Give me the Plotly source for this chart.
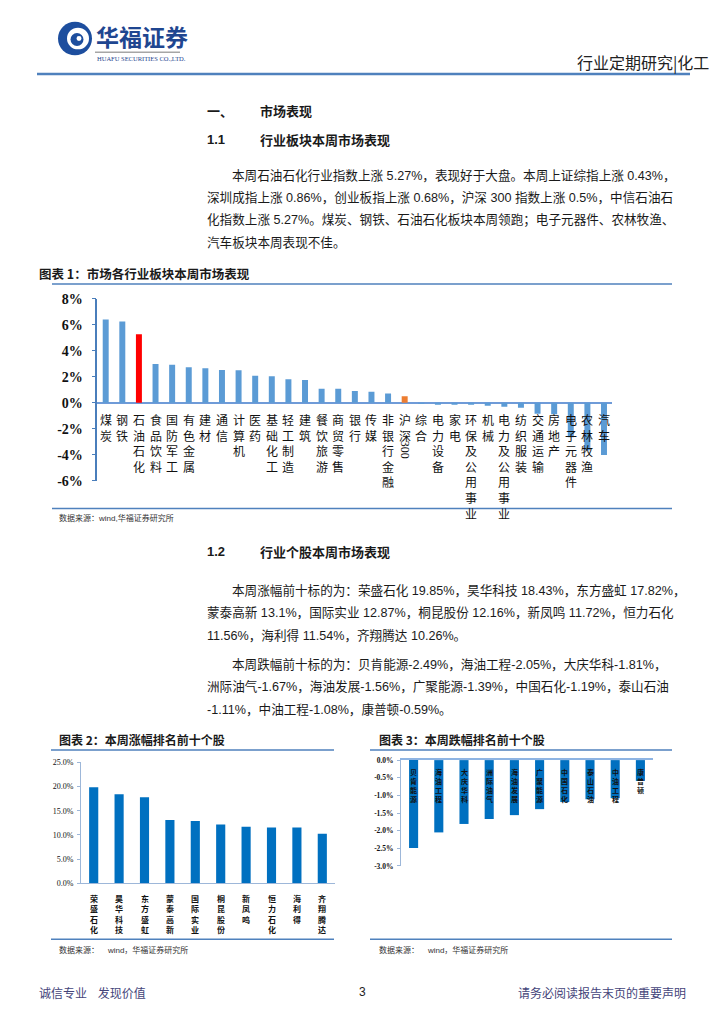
import plotly.graph_objects as go

W, H = 724, 1024

# ---------------- data ----------------
industries = ["煤炭", "钢铁", "石油石化", "食品饮料", "国防军工", "有色金属", "建材", "通信",
              "计算机", "医药", "基础化工", "轻工制造", "建筑", "餐饮旅游", "商贸零售", "银行",
              "传媒", "非银行金融", "沪深300", "综合", "电力设备", "家电", "环保及公用事业", "机械",
              "电力及公用事业", "纺织服装", "交通运输", "房地产", "电子元器件", "农林牧渔", "汽车"]
industry_returns = [6.39, 6.24, 5.27, 2.98, 2.93, 2.73, 2.65, 2.53, 2.50, 2.07, 2.04, 1.82,
                    1.75, 1.09, 1.08, 0.91, 0.86, 0.71, 0.50, -0.03, -0.10, -0.14, -0.15, -0.22,
                    -0.30, -0.38, -0.83, -0.88, -2.65, -3.65, -4.00]
chart1_ticks = [8, 6, 4, 2, 0, -2, -4, -6]

gainers = ["荣盛石化", "昊华科技", "东方盛虹", "蒙泰高新", "国际实业", "桐昆股份", "新凤鸣",
           "恒力石化", "海利得", "齐翔腾达"]
gainer_returns = [19.85, 18.43, 17.82, 13.1, 12.87, 12.16, 11.72, 11.56, 11.54, 10.26]
chart2_ticks = [0, 5, 10, 15, 20, 25]

losers = ["贝肯能源", "海油工程", "大庆华科", "洲际油气", "海油发展", "广聚能源", "中国石化",
          "泰山石油", "中油工程", "康普顿"]
loser_returns = [-2.49, -2.05, -1.81, -1.67, -1.56, -1.39, -1.19, -1.11, -1.08, -0.59]
chart3_ticks = [0, -0.5, -1.0, -1.5, -2.0, -2.5, -3.0]

# ---------------- helpers ----------------
def fx(x):
    return x / W


def fy(y):
    return 1 - y / H


CJK = "Noto Sans CJK SC"
BODY = "Liberation Sans, Noto Sans CJK SC"
SERIF = "Liberation Serif, Noto Sans CJK SC"
NB = "\u00a0"

annotations = []
shapes = []


def text(x, y, s, size=13, color="#1a1a1a", family=BODY, xanchor="left", yanchor="middle", bold=False):
    annotations.append(dict(
        x=fx(x), y=fy(y), xref="paper", yref="paper", text=("<b>%s</b>" % s) if bold else s,
        showarrow=False, xanchor=xanchor, yanchor=yanchor,
        font=dict(size=size, color=color, family=family)))


def hline(x0, x1, y, color="#4F81BD", width=1.5):
    shapes.append(dict(type="line", xref="paper", yref="paper", x0=fx(x0), x1=fx(x1),
                       y0=fy(y), y1=fy(y), line=dict(color=color, width=width)))


def circle(cx, cy, r, color):
    shapes.append(dict(type="circle", xref="paper", yref="paper",
                       x0=fx(cx - r), x1=fx(cx + r), y0=fy(cy + r), y1=fy(cy - r),
                       fillcolor=color, line=dict(width=0)))


def vstack(s):
    return "<br>".join(list(s))


fig = go.Figure()

# ---------------- chart 1 ----------------
colors1 = []
for name in industries:
    if name == "石油石化":
        colors1.append("#FF0000")
    elif name == "沪深300":
        colors1.append("#ED7D31")
    else:
        colors1.append("#5B9BD5")

fig.add_trace(go.Bar(x=industries, y=industry_returns, marker=dict(color=colors1, line=dict(width=0)),
                     xaxis="x", yaxis="y", showlegend=False, hoverinfo="skip"))

for name in industries:
    if name == "沪深300":
        annotations.append(dict(x=name, y=0, xref="x", yref="y", text=vstack("沪深"),
                                showarrow=False, yanchor="top", yshift=-6,
                                font=dict(size=12, family=CJK, color="#111")))
        annotations.append(dict(x=name, y=fy(449), xref="x", yref="paper", text="300",
                                showarrow=False, yanchor="middle", textangle=90,
                                font=dict(size=12, family=SERIF, color="#111")))
    else:
        annotations.append(dict(x=name, y=0, xref="x", yref="y", text=vstack(name),
                                showarrow=False, yanchor="top", yshift=-6,
                                font=dict(size=12, family=CJK, color="#111")))

# ---------------- chart 2 ----------------
fig.add_trace(go.Bar(x=gainers, y=gainer_returns, marker=dict(color="#0070C0", line=dict(width=0)),
                     xaxis="x2", yaxis="y2", showlegend=False, hoverinfo="skip", width=0.36))
for name in gainers:
    annotations.append(dict(x=name, y=0, xref="x2", yref="y2", text="<b>%s</b>" % vstack(name),
                            showarrow=False, yanchor="top", yshift=-8,
                            font=dict(size=8, family=CJK, color="#111")))

# ---------------- chart 3 ----------------
fig.add_trace(go.Bar(x=losers, y=loser_returns, marker=dict(color="#0070C0", line=dict(width=0)),
                     xaxis="x3", yaxis="y3", showlegend=False, hoverinfo="skip", width=0.36))
for name in losers:
    annotations.append(dict(x=name, y=0, xref="x3", yref="y3", text="<b>%s</b>" % vstack(name),
                            showarrow=False, yanchor="top", yshift=-5,
                            font=dict(size=7, family=CJK, color="#111")))

# ---------------- page header ----------------
circle(75, 32, 17, "#1D4E9E")
circle(78, 32, 11, "#FFFFFF")
circle(77, 33, 6.5, "#1D4E9E")
circle(79, 32, 2.5, "#FFFFFF")
text(94, 29, "华福证券", size=23, color="#1F4690", family=CJK, bold=True)
hline(95, 180, 46, color="#A6A6A6", width=1.5)
text(95, 52, "HUAFU SECURITIES CO.,LTD.", size=6.5, color="#1F4690", family="Liberation Serif")
text(711, 56, "行业定期研究|化工", size=16, color="#222", family=CJK, xanchor="right")
hline(37, 690, 68, color="#4F81BD", width=2.5)

# ---------------- section 1 ----------------
text(205, 105, "一、", size=13, family=CJK, bold=True)
text(258, 105, "市场表现", size=13, family=CJK, bold=True)
text(205, 134, "1.1", size=13, family=BODY, bold=True)
text(258, 134, "行业板块本周市场表现", size=13, family=CJK, bold=True)

para1 = [
    (230, 171, "本周石油石化行业指数上涨 5.27%，表现好于大盘。本周上证综指上涨 0.43%，"),
    (205, 194, "深圳成指上涨 0.86%，创业板指上涨 0.68%，沪深 300 指数上涨 0.5%，中信石油石"),
    (205, 217, "化指数上涨 5.27%。煤炭、钢铁、石油石化板块本周领跑；电子元器件、农林牧渔、"),
    (205, 240, "汽车板块本周表现不佳。"),
]
for x, y, s in para1:
    text(x, y, s, size=12.6)

text(37, 270, "图表 1：市场各行业板块本周市场表现", size=12.5, family=CJK, bold=True)
hline(52, 672, 281)
hline(52, 672, 509)
text(57, 519, "数据来源：wind,华福证券研究所", size=8, color="#333")

# ---------------- section 1.2 ----------------
text(205, 553, "1.2", size=13, family=BODY, bold=True)
text(258, 553, "行业个股本周市场表现", size=13, family=CJK, bold=True)
para2 = [
    (230, 592, "本周涨幅前十标的为：荣盛石化 19.85%，昊华科技 18.43%，东方盛虹 17.82%，"),
    (205, 615, "蒙泰高新 13.1%，国际实业 12.87%，桐昆股份 12.16%，新凤鸣 11.72%，恒力石化"),
    (205, 638, "11.56%，海利得 11.54%，齐翔腾达 10.26%。"),
    (230, 667, "本周跌幅前十标的为：贝肯能源-2.49%，海油工程-2.05%，大庆华科-1.81%，"),
    (205, 690, "洲际油气-1.67%，海油发展-1.56%，广聚能源-1.39%，中国石化-1.19%，泰山石油"),
    (205, 713, "-1.11%，中油工程-1.08%，康普顿-0.59%。"),
]
for x, y, s in para2:
    text(x, y, s, size=12.6)

src = "数据来源：" + NB * 4 + "wind，华福证券研究所"
text(57, 743, "图表 2：本周涨幅排名前十个股", size=12, family=CJK, bold=True)
hline(51, 334, 754)
hline(51, 334, 946)
text(57, 957, src, size=8, color="#333")

text(377, 743, "图表 3：本周跌幅排名前十个股", size=12, family=CJK, bold=True)
hline(370, 672, 754)
hline(370, 672, 946)
text(377, 957, src, size=8, color="#333")

# ---------------- footer ----------------
text(37, 1000, "诚信专业" + NB * 4 + "发现价值", size=12, color="#44447A", family=CJK)
text(362, 1000, "3", size=12, color="#222", family=BODY, xanchor="center")
text(688, 1000, "请务必阅读报告末页的重要声明", size=12, color="#44447A", family=CJK, xanchor="right")

# ---------------- axes ----------------
fig.update_layout(
    width=W, height=H, margin=dict(l=0, r=0, t=0, b=0),
    paper_bgcolor="white", plot_bgcolor="rgba(0,0,0,0)",
    bargap=0.64,
    xaxis=dict(domain=[fx(97.4), fx(612.3)], range=[-0.5, 30.5], anchor="y", type="category",
               showline=False, showgrid=False, zeroline=False, showticklabels=False, ticks=""),
    yaxis=dict(domain=[fy(481), fy(296)], range=[-6, 8], anchor="x",
               tickvals=chart1_ticks, ticktext=["<b>%d%%</b>" % v for v in chart1_ticks],
               tickfont=dict(family="Liberation Serif", size=14, color="#111"),
               showgrid=False, showline=True, linecolor="#4A7EBB", linewidth=1.5,
               ticks="outside", ticklen=4, tickcolor="#4A7EBB", tickwidth=1,
               zeroline=True, zerolinecolor="#6F9BD8", zerolinewidth=1.5,
               ticklabelstandoff=6),
    xaxis2=dict(domain=[fx(81), fx(335)], range=[-0.5, 9.5], anchor="y2", type="category",
                showline=True, linecolor="#9DB7D9", linewidth=1,
                showgrid=False, zeroline=False, showticklabels=False, ticks=""),
    yaxis2=dict(domain=[fy(889.3), fy(766.7)], range=[0, 25], anchor="x2",
                tickvals=chart2_ticks, ticktext=["%.1f%%" % v for v in chart2_ticks],
                tickfont=dict(family="Liberation Serif", size=8, color="#111"),
                showgrid=False, showline=True, linecolor="#9DB7D9", linewidth=1,
                ticks="outside", ticklen=3, tickcolor="#9DB7D9", zeroline=False,
                ticklabelstandoff=2),
    xaxis3=dict(domain=[fx(401), fx(653)], range=[-0.5, 9.5], anchor="y3", type="category",
                side="top", showline=True, linecolor="#8EB4E3", linewidth=1.5,
                showgrid=False, zeroline=False, showticklabels=False, ticks=""),
    yaxis3=dict(domain=[fy(871.7), fy(764.3)], range=[-3, 0], anchor="x3",
                tickvals=chart3_ticks, ticktext=["<b>%.1f%%</b>" % v for v in chart3_ticks],
                tickfont=dict(family="Liberation Serif", size=7.5, color="#111"),
                showgrid=False, showline=True, linecolor="#9DB7D9", linewidth=1,
                ticks="outside", ticklen=3, tickcolor="#9DB7D9", zeroline=False,
                ticklabelstandoff=2),
    annotations=annotations,
    shapes=shapes,
)

fig.write_html("out.html", config={"displayModeBar": False},
               post_script="document.body.style.margin='0';document.body.style.overflow='hidden';")
